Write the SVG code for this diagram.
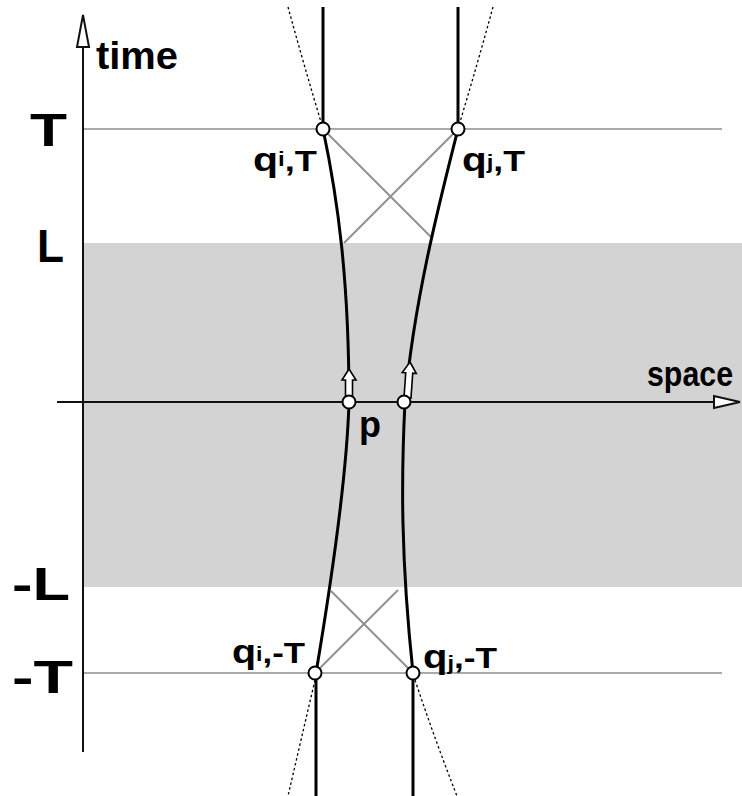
<svg xmlns="http://www.w3.org/2000/svg" width="742" height="796" viewBox="0 0 742 796">
<style>
.lbl{font-family:"Liberation Sans",Arial,sans-serif;font-weight:bold;fill:#000}
.grid{stroke:#aaa;stroke-width:2;fill:none}
.cross{stroke:#909090;stroke-width:2;fill:none}
.wl{stroke:#000;stroke-width:3;fill:none}
.dot{stroke:#000;stroke-width:1.3;fill:none;stroke-dasharray:2.5,2.5}
.axis{stroke:#111;stroke-width:2;fill:none}
.node{fill:#fff;stroke:#000;stroke-width:2}
.arr{fill:#fff;stroke:#000;stroke-width:1.6;stroke-linejoin:miter}
</style>
<defs>
<polygon id="ah" points="0,0 7,11 3.5,11 3.5,36 -3.5,36 -3.5,11 -7,11"/>
</defs>
<rect width="742" height="796" fill="#fff"/>
<rect id="band" x="83" y="243" width="659" height="344" fill="#d3d3d3"/>
<g id="gridlines">
<line class="grid" x1="83" y1="129" x2="722" y2="129"/>
<line class="grid" x1="83" y1="673" x2="722" y2="673"/>
</g>
<g id="axes">
<line class="axis" x1="83" y1="752" x2="83" y2="47"/>
<polygon points="83,15 77,47 89,47" fill="#fff" stroke="#111" stroke-width="2"/>
<line class="axis" x1="57" y1="402" x2="714" y2="402"/>
<polygon points="740,402 714,396 714,408" fill="#fff" stroke="#111" stroke-width="2"/>
</g>
<g id="connectors">
<line class="cross" x1="323" y1="129" x2="431" y2="237"/>
<line class="cross" x1="458" y1="129" x2="344" y2="243"/>
<line class="cross" x1="331" y1="591" x2="413" y2="673"/>
<line class="cross" x1="315" y1="673" x2="398" y2="590"/>
<line class="wl" x1="323" y1="7" x2="323" y2="129"/>
<line class="wl" x1="458" y1="7" x2="458" y2="129"/>
<line class="wl" x1="316" y1="673" x2="316" y2="796"/>
<line class="wl" x1="413" y1="673" x2="413" y2="796"/>
<path class="dot" d="M288,7 Q303,62 321,122"/>
<path class="dot" d="M493,7 Q478,62 460,122"/>
<path class="dot" d="M315,680 Q301,740 288,796"/>
<path class="dot" d="M415,680 Q435,740 457,796"/>
<path class="wl" d="M323,129 C338,200 349,280 349,402"/>
<path class="wl" d="M458,129 C440,200 414,300 405,402"/>
<path class="wl" d="M349,402 C347,470 335,560 316,673"/>
<path class="wl" d="M405,402 C401,480 401,560 413,673"/>
<use href="#ah" class="arr" transform="translate(349,369)"/>
<use href="#ah" class="arr" transform="translate(410,362) rotate(4)"/>
</g>
<g id="node-qiT"><circle class="node" cx="323" cy="129" r="6.5"/>
<text class="lbl" x="253" y="171" font-size="34" textLength="64" lengthAdjust="spacingAndGlyphs">q<tspan font-size="20" dy="-5">i</tspan><tspan font-size="30" dy="5">,T</tspan></text></g>
<g id="node-qjT"><circle class="node" cx="458" cy="129" r="6.5"/>
<text class="lbl" x="462" y="171" font-size="34" textLength="63" lengthAdjust="spacingAndGlyphs">q<tspan font-size="20" dy="-2">j</tspan><tspan font-size="30" dy="2">,T</tspan></text></g>
<g id="node-p1"><circle class="node" cx="349" cy="402" r="6.5"/></g>
<g id="node-p2"><circle class="node" cx="404" cy="402" r="6.5"/></g>
<text class="lbl" x="359" y="437" font-size="36">p</text>
<g id="node-qimT"><circle class="node" cx="315" cy="673" r="6.5"/>
<text class="lbl" x="232" y="663" font-size="34" textLength="73" lengthAdjust="spacingAndGlyphs">q<tspan font-size="20" dy="-2">i</tspan><tspan font-size="30" dy="2">,-T</tspan></text></g>
<g id="node-qjmT"><circle class="node" cx="413" cy="673" r="6.5"/>
<text class="lbl" x="423" y="668" font-size="34" textLength="74" lengthAdjust="spacingAndGlyphs">q<tspan font-size="20" dy="2">j</tspan><tspan font-size="30" dy="-2">,-T</tspan></text></g>
<g id="labels">
<text class="lbl" x="96" y="69" font-size="38" textLength="82" lengthAdjust="spacingAndGlyphs">time</text>
<text class="lbl" x="647" y="386" font-size="35" textLength="86" lengthAdjust="spacingAndGlyphs">space</text>
<text class="lbl" x="30" y="146" font-size="46" textLength="37" lengthAdjust="spacingAndGlyphs">T</text>
<text class="lbl" x="37" y="262" font-size="46" textLength="27" lengthAdjust="spacingAndGlyphs">L</text>
<text class="lbl" x="12" y="600" font-size="46" textLength="58" lengthAdjust="spacingAndGlyphs">-L</text>
<text class="lbl" x="12" y="693" font-size="46" textLength="61" lengthAdjust="spacingAndGlyphs">-T</text>
</g>
</svg>
